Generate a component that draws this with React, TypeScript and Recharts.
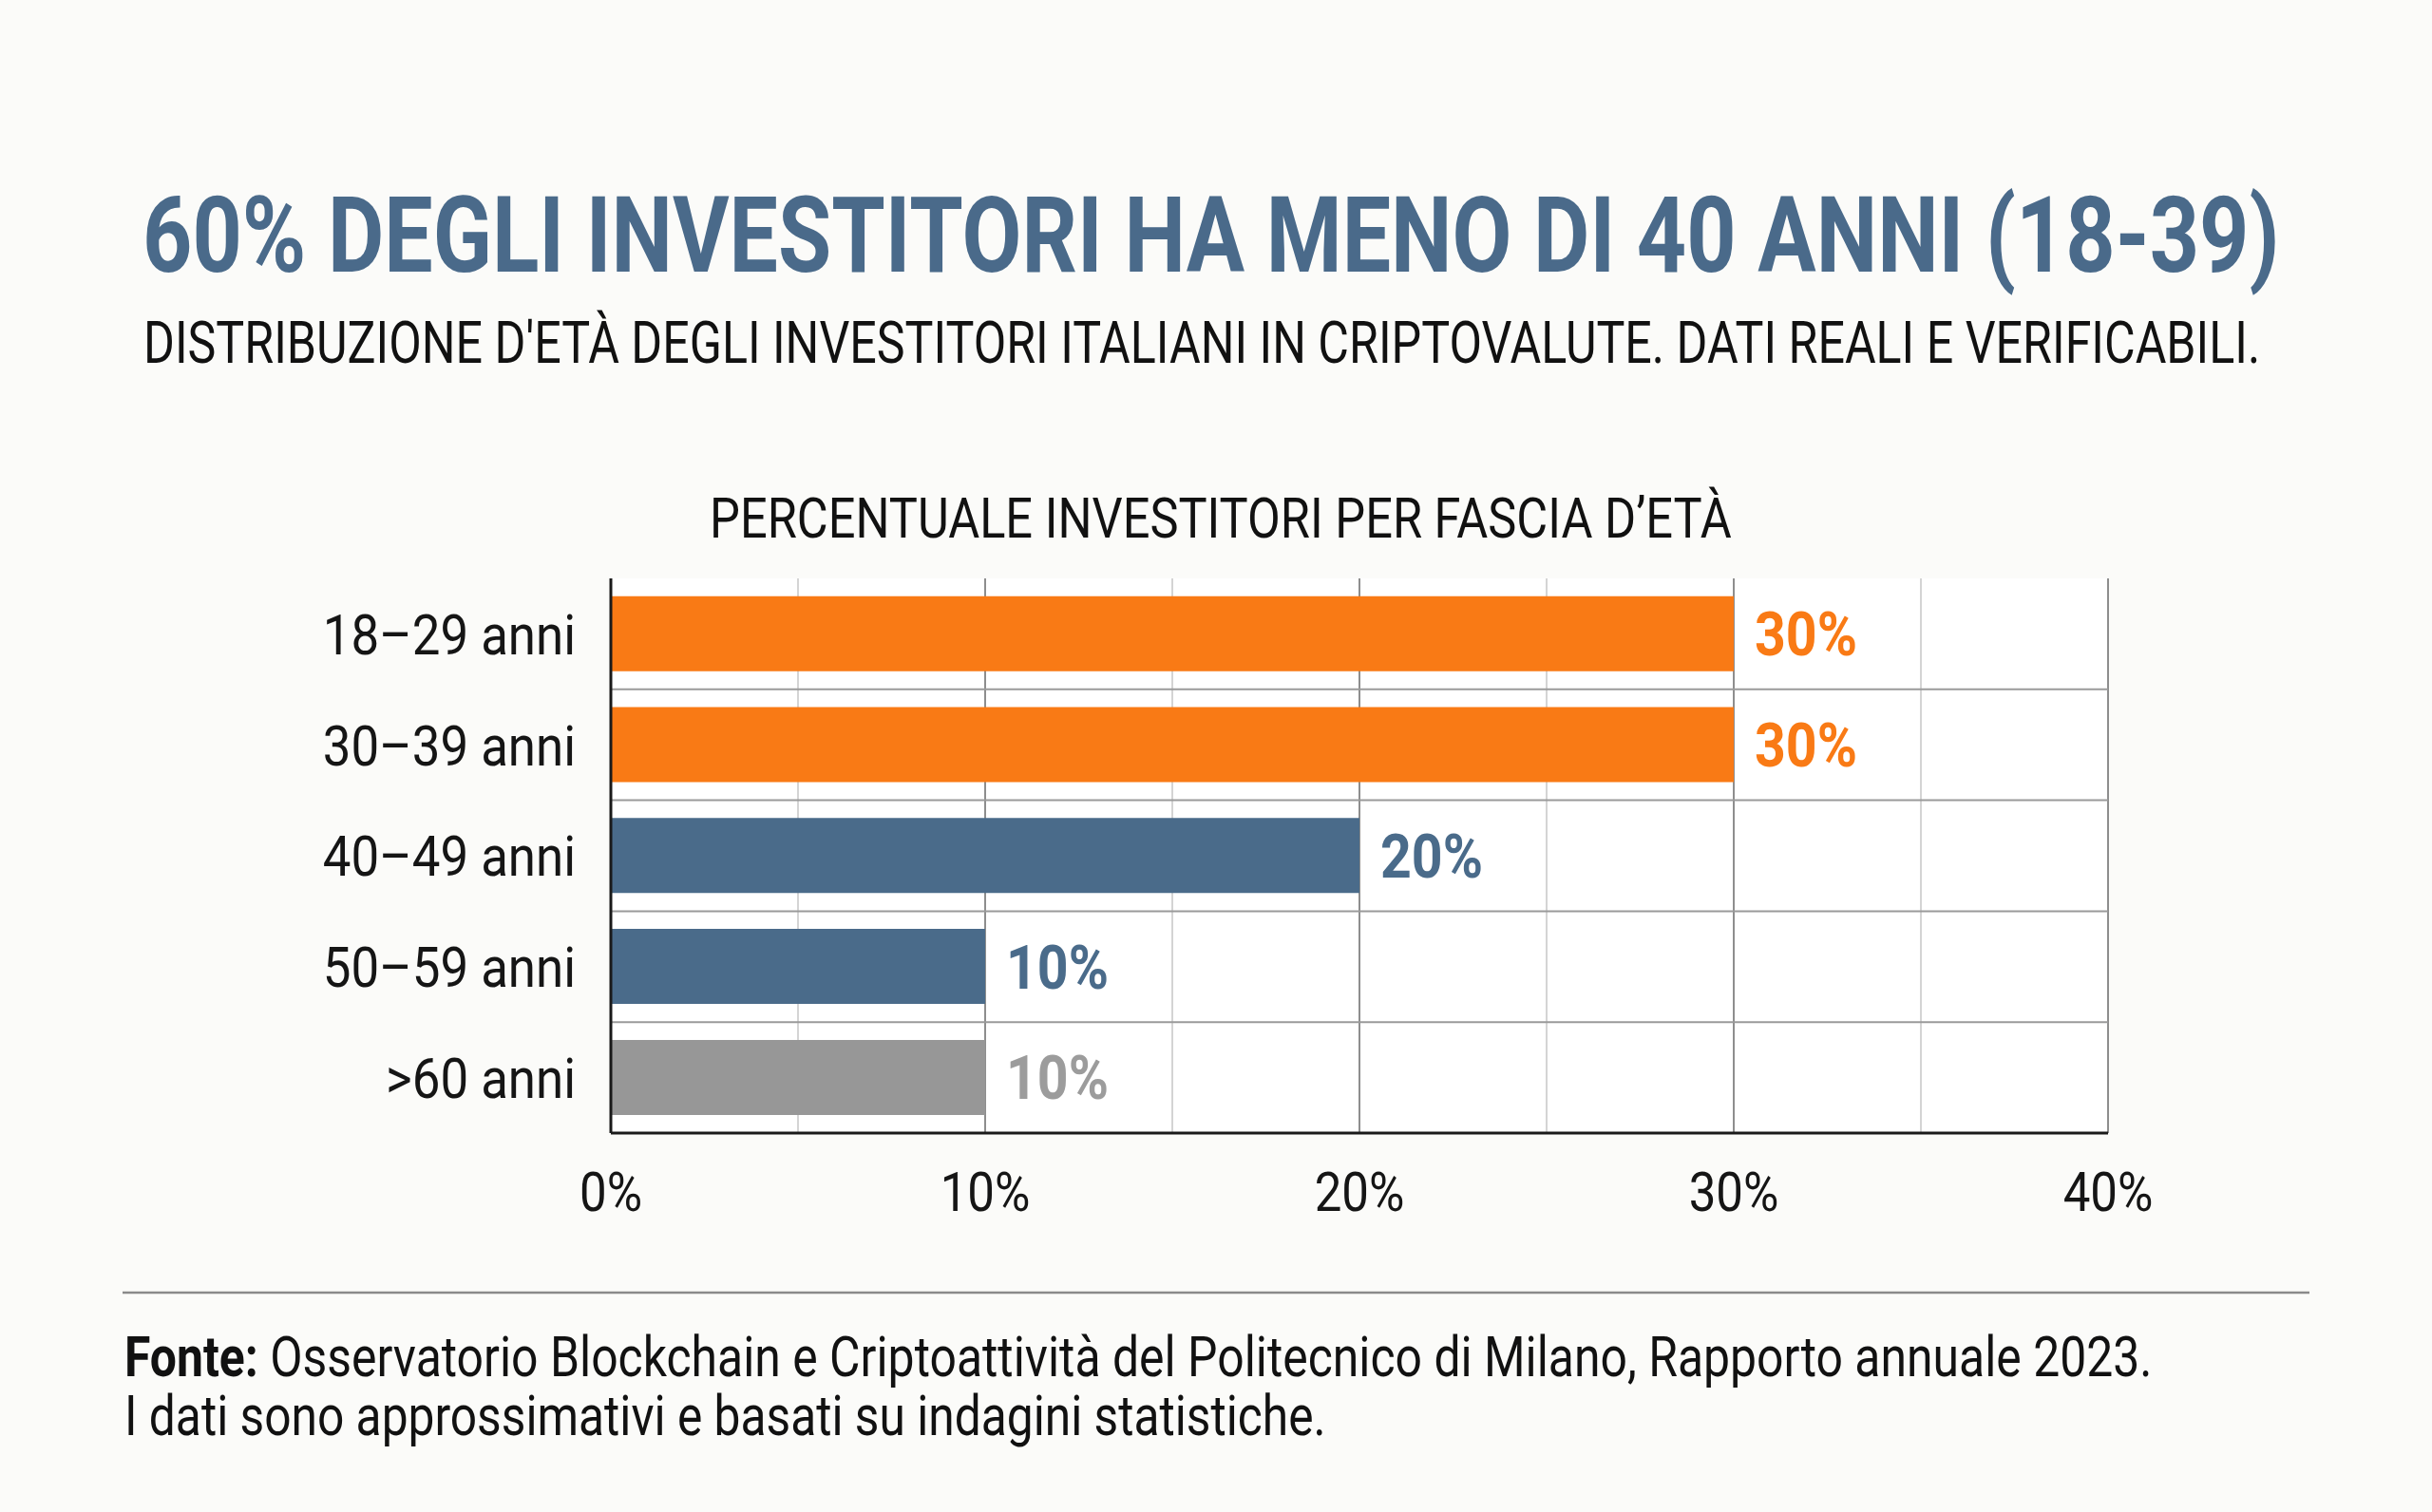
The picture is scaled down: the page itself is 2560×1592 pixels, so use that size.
import { BarChart, Bar, XAxis, YAxis, CartesianGrid, Cell, LabelList } from "recharts";

// age bands and share of Italian crypto investors (%)
const ageBands = ["18–29 anni", "30–39 anni", "40–49 anni", "50–59 anni", ">60 anni"];
const investorShare = [30, 30, 20, 10, 10];
const shareTicks = [0, 10, 20, 30, 40];
const minorTicks = [5, 15, 25, 35];

const data = ageBands.map((band, i) => ({ band, share: investorShare[i] }));

const ORANGE = "#F97A15";
const BLUE = "#4A6B8A";
const GREY = "#979797";
const barColors = [ORANGE, ORANGE, BLUE, BLUE, GREY];
const labelColors = [ORANGE, ORANGE, BLUE, BLUE, "#9c9c9c"];

const FONT = "Roboto, 'Noto Sans', sans-serif";
// Roboto squeezed horizontally to read like a condensed face
const SQUEEZE = 0.88;
const X_MAX = 40;

const W = 2560;
const H = 1592;

const measureCtx =
  typeof document !== "undefined" ? document.createElement("canvas").getContext("2d") : null;

function textWidth(str: string, size: number, weight: number) {
  if (!measureCtx) return str.length * size * 0.5;
  measureCtx.font = `${weight} ${size}px Roboto`;
  return measureCtx.measureText(str).width;
}

type Part = { text: string; weight?: number };

// one line of text squeezed to a given width
function FitText({
  x,
  y,
  width,
  size,
  fill,
  parts,
}: {
  x: number;
  y: number;
  width: number;
  size: number;
  fill: string;
  parts: Part[];
}) {
  const natural = parts.reduce((s, p) => s + textWidth(p.text, size, p.weight ?? 400), 0);
  const k = natural > 0 ? width / natural : 1;
  return (
    <g transform={`translate(${x},${y}) scale(${k},1)`}>
      <text x={0} y={0} fontSize={size} fill={fill} style={{ whiteSpace: "pre" }}>
        {parts.map((p, i) => (
          <tspan key={i} fontWeight={p.weight ?? 400}>
            {p.text}
          </tspan>
        ))}
      </text>
    </g>
  );
}

function BandTick({ x, y, payload }: any) {
  return (
    <g transform={`translate(${x},${y})`}>
      <text
        transform={`scale(${SQUEEZE},1)`}
        textAnchor="end"
        dy="0.355em"
        fontSize={60}
        fill="#151515"
        fontFamily={FONT}
      >
        {payload.value}
      </text>
    </g>
  );
}

function ShareTick({ x, y, payload }: any) {
  return (
    <g transform={`translate(${x},${y})`}>
      <text
        transform={`scale(${SQUEEZE},1)`}
        textAnchor="middle"
        dy="0.355em"
        fontSize={58}
        fill="#151515"
        fontFamily={FONT}
      >
        {payload.value}%
      </text>
    </g>
  );
}

function ShareLabel(props: any) {
  const { x, y, width, height, value, index } = props;
  const lx = Number(x) + Number(width) + 22;
  const ly = Number(y) + Number(height) / 2;
  return (
    <g transform={`translate(${lx},${ly})`}>
      <text
        transform={`scale(${SQUEEZE},1)`}
        textAnchor="start"
        dy="0.355em"
        fontSize={65}
        fontWeight={700}
        fill={labelColors[index ?? 0]}
        fontFamily={FONT}
      >
        {value}%
      </text>
    </g>
  );
}

// lines between the bands, not through the bar centres
const bandEdges = ({ offset }: any) =>
  ageBands.slice(1).map((_, i) => offset.top + ((i + 1) * offset.height) / ageBands.length);

const xLines = (values: number[]) => ({ offset }: any) =>
  values.map((v) => offset.left + (v / X_MAX) * offset.width);

export default function App() {
  return (
    <div
      style={{
        position: "absolute",
        left: 0,
        top: 0,
        width: W,
        height: H,
        background: "#fbfbf9",
        overflow: "hidden",
      }}
    >
      <div style={{ position: "absolute", left: 0, top: 0 }}>
        <BarChart
          width={W}
          height={1330}
          data={data}
          layout="vertical"
          margin={{ top: 609, right: 341, bottom: 37, left: 343 }}
          barCategoryGap="16%"
        >
          <CartesianGrid
            horizontal={false}
            fill="#ffffff"
            stroke="#d4d4d4"
            strokeWidth={2}
            verticalCoordinatesGenerator={xLines(minorTicks)}
            syncWithTicks={false}
          />
          <CartesianGrid
            horizontal={false}
            stroke="#8e8e8e"
            strokeWidth={2}
            verticalCoordinatesGenerator={xLines(shareTicks.slice(1))}
            syncWithTicks={false}
          />
          <CartesianGrid
            vertical={false}
            stroke="#9a9a9a"
            strokeWidth={2}
            horizontalCoordinatesGenerator={bandEdges}
            syncWithTicks={false}
          />
          <XAxis
            type="number"
            domain={[0, X_MAX]}
            ticks={shareTicks}
            height={100}
            tickLine={false}
            tickSize={0}
            tickMargin={61}
            axisLine={{ stroke: "#1a1a1a", strokeWidth: 3 }}
            tick={<ShareTick />}
            interval={0}
          />
          <YAxis
            type="category"
            dataKey="band"
            width={300}
            tickLine={false}
            tickSize={0}
            tickMargin={37}
            axisLine={{ stroke: "#1a1a1a", strokeWidth: 3 }}
            tick={<BandTick />}
            interval={0}
          />
          <Bar dataKey="share" isAnimationActive={false}>
            {data.map((d, i) => (
              <Cell key={d.band} fill={barColors[i]} />
            ))}
            <LabelList dataKey="share" content={<ShareLabel />} />
          </Bar>
        </BarChart>
      </div>

      <svg
        width={W}
        height={H}
        style={{ position: "absolute", left: 0, top: 0, pointerEvents: "none" }}
        fontFamily={FONT}
      >
        <FitText
          x={150}
          y={286}
          width={2250}
          size={111}
          fill="#4A6A8A"
          parts={[{ text: "60% DEGLI INVESTITORI HA MENO DI 40 ANNI (18-39)", weight: 700 }]}
        />
        <FitText
          x={151}
          y={382}
          width={2229}
          size={62}
          fill="#111"
          parts={[
            {
              text: "DISTRIBUZIONE D'ETÀ DEGLI INVESTITORI ITALIANI IN CRIPTOVALUTE. DATI REALI E VERIFICABILI.",
            },
          ]}
        />
        <FitText
          x={747}
          y={566}
          width={1076}
          size={60}
          fill="#111"
          parts={[{ text: "PERCENTUALE INVESTITORI PER FASCIA D’ETÀ" }]}
        />

        <line x1={129} x2={2431} y1={1361} y2={1361} stroke="#8a8a8a" strokeWidth={2.5} />

        <FitText
          x={131}
          y={1449}
          width={2135}
          size={59}
          fill="#111"
          parts={[
            { text: "Fonte:", weight: 700 },
            {
              text: " Osservatorio Blockchain e Criptoattività del Politecnico di Milano, Rapporto annuale 2023.",
            },
          ]}
        />
        <FitText
          x={131}
          y={1511}
          width={1265}
          size={59}
          fill="#111"
          parts={[{ text: "I dati sono approssimativi e basati su indagini statistiche." }]}
        />
      </svg>
    </div>
  );
}
